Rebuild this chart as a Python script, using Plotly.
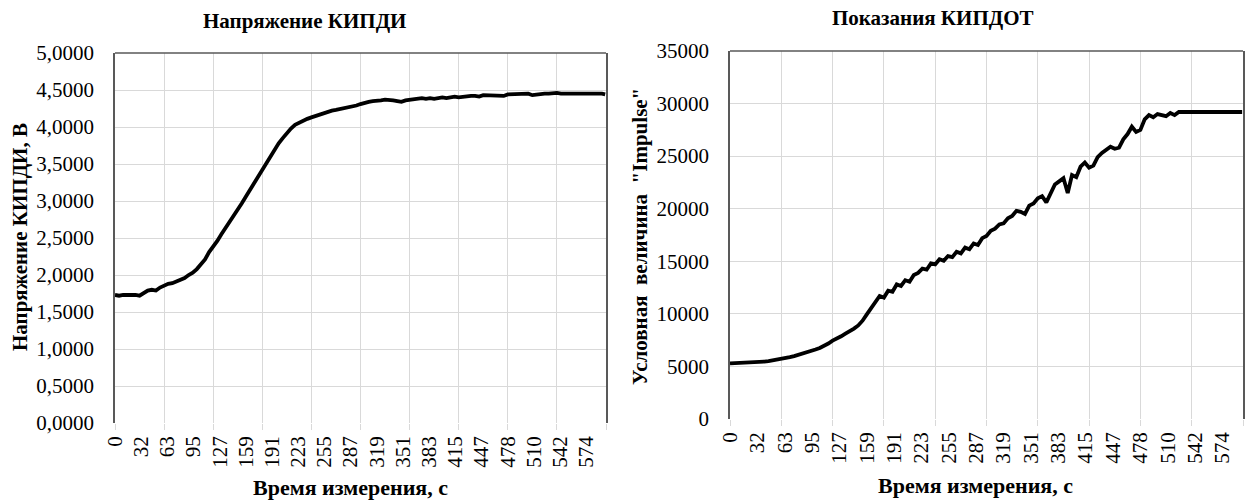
import plotly.graph_objects as go

# ---------------- data ----------------
# sample index (categories, ~1 s each)
idx_left = list(range(0, 600, 5)) + [599]
voltage_kipdi = [
    1.73, 1.72, 1.73, 1.73, 1.74, 1.73, 1.72, 1.75, 1.79, 1.80,
    1.79, 1.83, 1.86, 1.88, 1.89, 1.91, 1.94, 1.96, 2.00, 2.03,
    2.08, 2.14, 2.21, 2.31, 2.38, 2.46, 2.55, 2.63, 2.72, 2.80,
    2.89, 2.97, 3.06, 3.15, 3.24, 3.34, 3.43, 3.53, 3.62, 3.70,
    3.78, 3.85, 3.92, 3.98, 4.03, 4.06, 4.09, 4.11, 4.13, 4.15,
    4.17, 4.19, 4.21, 4.22, 4.23, 4.24, 4.25, 4.26, 4.27, 4.29,
    4.31, 4.33, 4.34, 4.35, 4.35, 4.36, 4.37, 4.37, 4.36, 4.35,
    4.34, 4.36, 4.37, 4.37, 4.38, 4.39, 4.38, 4.39, 4.38, 4.39,
    4.40, 4.39, 4.40, 4.41, 4.40, 4.41, 4.41, 4.42, 4.42, 4.41,
    4.43, 4.43, 4.42, 4.42, 4.43, 4.42, 4.44, 4.44, 4.45, 4.45,
    4.44, 4.45, 4.43, 4.44, 4.44, 4.45, 4.45, 4.46, 4.46, 4.45,
    4.45, 4.46, 4.45, 4.45, 4.46, 4.46, 4.46, 4.45, 4.45, 4.45,
    4.44,
]

idx_right = list(range(0, 600, 5)) + [599]
impulse_kipdot = [
    5290, 5300, 5310, 5320, 5340, 5360, 5390, 5420, 5460, 5500,
    5560, 5620, 5700, 5790, 5880, 5980, 6090, 6210, 6340, 6470,
    6610, 6760, 6930, 7180, 7450, 7640, 7870, 8120, 8330, 8600,
    8900, 9350, 9950, 10500, 11000, 11700, 11550, 12200, 12100, 12800,
    12650, 13200, 13050, 13700, 13900, 14300, 14200, 14800, 14700, 15200,
    15050, 15500, 15400, 15900, 15750, 16300, 16150, 16700, 16550, 17200,
    17400, 17900, 18100, 18500, 18600, 19100, 19300, 19800, 19700, 19500,
    20300, 20500, 21000, 21200, 20600, 21500, 22300, 22600, 22900, 21500,
    23200, 23000, 24000, 24400, 23900, 24100, 24900, 25300, 25600, 25900,
    25700, 25800, 26600, 27100, 27800, 27300, 27500, 28500, 28900, 28700,
    29000, 28900, 28800, 29100, 28900, 29200, 29200, 29200, 29200, 29210,
    29200, 29200, 29210, 29200, 29200, 29200, 29210, 29200, 29200, 29200,
    29200,
]

# category axis labels (every 32 samples) and gridlines (every 60 samples)
xtick_idx = [0, 32, 64, 96, 128, 160, 192, 224, 256, 288, 320, 352, 384,
             416, 448, 480, 512, 544, 576]
xtick_text = ["0", "32", "63", "95", "127", "159", "191", "223", "255", "287",
              "319", "351", "383", "415", "447", "478", "510", "542", "574"]
xgrid_idx = [0, 60, 120, 180, 240, 300, 360, 420, 480, 540, 600]

title_left = "Напряжение КИПДИ"
title_right = "Показания КИПДОТ"
ytitle_left = "Напряжение КИПДИ, В"
ytitle_right = "Условная\u00a0\u00a0величина\u00a0\u00a0\"Impulse\""
xtitle = "Время измерения, с"

# ---------------- figure ----------------
W, H = 1245, 502
FONT = "Liberation Serif, Times New Roman, DejaVu Serif, serif"
GRID = "#d9d9d9"
AXIS = "#595959"
TS = 21  # tick font size

def px_x(p):
    return p / W

def px_y(p):
    return 1 - p / H

fig = go.Figure()
fig.add_trace(go.Scatter(x=idx_left, y=voltage_kipdi, mode="lines",
                         line=dict(color="black", width=3.8),
                         xaxis="x", yaxis="y", showlegend=False))
fig.add_trace(go.Scatter(x=idx_right, y=impulse_kipdot, mode="lines",
                         line=dict(color="black", width=3.8),
                         xaxis="x2", yaxis="y2", showlegend=False))

def xaxis_cfg(domain, anchor):
    return dict(
        domain=domain, anchor=anchor, range=[0, 600], automargin=False,
        tickmode="array", tickvals=xtick_idx, ticktext=xtick_text,
        tickangle=-90, ticks="", showgrid=False, zeroline=False,
        showline=False, ticklabelstandoff=8,
        tickfont=dict(family=FONT, size=TS, color="black"),
        minor=dict(tickmode="array", tickvals=xgrid_idx, showgrid=True,
                   gridcolor=GRID, gridwidth=1, ticks="outside",
                   ticklen=6, tickcolor=GRID, tickwidth=1),
    )

def yaxis_cfg(domain, anchor, rng, dtick, fmt):
    return dict(
        domain=domain, anchor=anchor, range=rng, dtick=dtick, tick0=0,
        tickformat=fmt, showgrid=True, gridcolor=GRID, gridwidth=1,
        zeroline=False, showline=True, mirror=True, linecolor=AXIS,
        linewidth=1.5, ticks="", automargin=False, ticklabelstandoff=15,
        tickfont=dict(family=FONT, size=TS, color="black"),
    )

fig.update_layout(
    width=W, height=H,
    margin=dict(l=0, r=0, t=0, b=0),
    paper_bgcolor="white", plot_bgcolor="white",
    separators=", ",
    font=dict(family=FONT, color="black"),
    xaxis=xaxis_cfg([px_x(115), px_x(606)], "y"),
    yaxis=yaxis_cfg([px_y(423), px_y(53)], "x", [0, 5], 0.5, ".4f"),
    xaxis2=xaxis_cfg([px_x(730), px_x(1243)], "y2"),
    yaxis2=yaxis_cfg([px_y(419), px_y(51)], "x2", [0, 35000], 5000, "d"),
)

# top borders of the plot areas
for xr, yr in (("x domain", "y domain"), ("x2 domain", "y2 domain")):
    fig.add_shape(type="line", xref=xr, yref=yr, x0=0, x1=1, y0=1, y1=1,
                  line=dict(color=AXIS, width=1.5))

def ann(text, x, y, size=21, angle=0):
    fig.add_annotation(text="<b>%s</b>" % text, x=px_x(x), y=px_y(y),
                       xref="paper", yref="paper", showarrow=False,
                       textangle=angle, xanchor="center", yanchor="middle",
                       font=dict(family=FONT, size=size, color="black"))

ann(title_left, 304, 21, size=21)
ann(title_right, 933, 18, size=21)
ann(xtitle, 350, 487, size=22)
ann(xtitle, 975, 485, size=22)
ann(ytitle_left, 20, 237, size=21, angle=-90)
ann(ytitle_right, 640, 236, size=21, angle=-90)

fig.write_html("out.html",
               config={"displayModeBar": False},
               post_script="document.body.style.margin='0px';"
                           "document.body.style.overflow='hidden';")
